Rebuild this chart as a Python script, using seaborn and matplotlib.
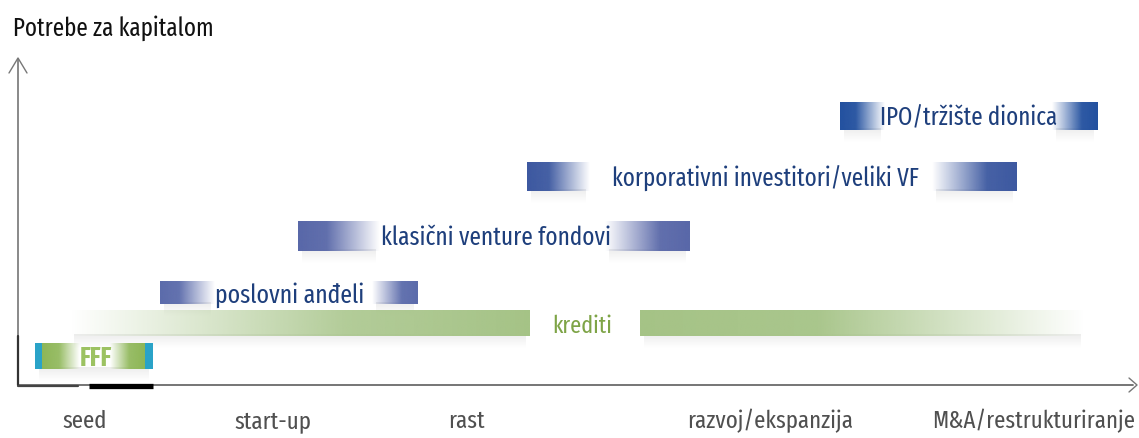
import numpy as np
import matplotlib
matplotlib.use("Agg")
import matplotlib.pyplot as plt
from matplotlib import font_manager
import seaborn as sns

# ---------------- data ----------------
stages = ["seed", "start-up", "rast", "razvoj/ekspanzija", "M&A/restrukturiranje"]
stage_pos = [85, 273, 466, 770, 1034]

sources = ["poslovni anđeli", "klasični venture fondovi",
           "korporativni investitori/veliki VF", "IPO/tržište dionica"]
src_level = [294, 237, 178, 117]
src_height = [23, 30, 29, 28]
src_left_start = [160, 298, 527, 840]
src_left_end = [215, 380, 590, 885]
src_text_span = [(215, 365), (381, 610), (612, 918), (880, 1057)]
src_right_start = [372, 605, 932, 1052]
src_right_end = [418, 690, 1017, 1098]
src_colors = ["#5b6bab", "#5867a8", "#3c58a0", "#22509f"]

fff_label = "FFF"
fff_span = [35, 153]
fff_level = 357

kred_label = "krediti"
kred_left = [70, 530]
kred_right = [640, 1085]
kred_level = 324

title = "Potrebe za kapitalom"

# ---------------- style ----------------
sns.set_theme(style="white")
avail = {f.name for f in font_manager.fontManager.ttflist}
main_font = "DejaVu Sans"
for cand in ["Fira Sans Extra Condensed", "PT Sans Narrow"]:
    if cand in avail:
        main_font = cand
        break
plt.rcParams["font.family"] = [main_font, "DejaVu Sans"]

W, H = 1139, 439
fig = plt.figure(figsize=(W / 100, H / 100), dpi=100)
ax = fig.add_axes([0, 0, 1, 1])
ax.set_xlim(0, W)
ax.set_ylim(H, 0)
ax.axis("off")
renderer = fig.canvas.get_renderer()


def fit_size(s, width, **kw):
    t = ax.text(0, 0, s, fontsize=20, **kw)
    w = t.get_window_extent(renderer).width
    t.remove()
    return 20 * width / w


def grad(x0, x1, yc, h, color, xs, alphas, n=256, z=3):
    rgb = np.array(matplotlib.colors.to_rgb(color))
    u = np.linspace(0, 1, n)
    img = np.zeros((1, n, 4))
    img[0, :, :3] = rgb
    img[0, :, 3] = np.clip(np.interp(u, xs, alphas), 0, 1)
    ax.imshow(img, extent=(x0, x1, yc + h / 2, yc - h / 2), aspect="auto",
              interpolation="bilinear", zorder=z)


def shadow(x0, x1, yc, h):
    n = 40
    img = np.zeros((n, 1, 4))
    img[:, 0, :3] = 0.55
    img[:, 0, 3] = np.linspace(0.16, 0.0, n)
    ax.imshow(img, extent=(x0 + 4, x1 - 4, yc + h / 2 + 12, yc + h / 2 - 2),
              aspect="auto", interpolation="bilinear", zorder=2)


# axes
ax.plot([18, 1133], [386, 386], color="#6a6a6a", lw=1.3, zorder=1)
ax.plot([18, 18], [386, 60], color="#6a6a6a", lw=1.1, zorder=1)
ax.plot([18, 18], [386, 337], color="#333333", lw=1.6, zorder=1)
ax.plot([18, 78], [387, 387], color="#444444", lw=1.6, zorder=1)
ax.plot([9, 18, 27], [74, 59, 74], color="#777777", lw=1.0, zorder=1)
ax.plot([1129, 1137, 1129], [379, 386, 393], color="#777777", lw=1.0, zorder=1)
ax.plot([89, 153], [387, 387], color="black", lw=3.8, zorder=2, solid_capstyle="butt")

# title
ax.text(13, 28, title, fontsize=fit_size(title, 200), color="#111111",
        va="center", ha="left")

# stage labels
fs_stage = fit_size(stages[-1], 203)
for s, x in zip(stages, stage_pos):
    ax.text(x, 421, s, fontsize=fs_stage, color="#505050", ha="center", va="center")

# krediti
green = "#a5c386"
shadow(kred_left[0], kred_left[1], kred_level, 26)
shadow(kred_right[0], kred_right[1], kred_level, 26)
grad(kred_left[0], kred_left[1], kred_level, 26, green, [0, 0.6, 1], [0.0, 0.85, 1.0])
grad(kred_right[0], kred_right[1], kred_level, 26, green, [0, 0.4, 1], [1.0, 0.95, 0.0])
ax.text(552, kred_level + 2, kred_label, fontsize=fit_size(kred_label, 60),
        color="#7ea447", ha="left", va="center", zorder=4)

# FFF
fg = "#8db656"
cy = "#2aa3c8"
x0, x1 = fff_span
shadow(x0, x1, fff_level, 26)
grad(x0, x0 + 7, fff_level, 26, cy, [0, 1], [1, 1])
grad(x0 + 7, x0 + 45, fff_level, 26, fg, [0, 0.45, 1], [1, 0.9, 0])
grad(x1 - 43, x1 - 8, fff_level, 26, fg, [0, 0.55, 1], [0, 0.9, 1])
grad(x1 - 8, x1, fff_level, 26, cy, [0, 1], [1, 1])
ax.text(80, fff_level + 1, fff_label,
        fontsize=fit_size(fff_label, 32, fontweight="bold"), color="#9cc262",
        ha="left", va="center", zorder=4, fontweight="bold")

# investor sources
for i, name in enumerate(sources):
    y = src_level[i]
    h = src_height[i]
    c = src_colors[i]
    shadow(src_left_start[i], src_left_end[i], y, h)
    shadow(src_right_start[i], src_right_end[i], y, h)
    grad(src_left_start[i], src_left_end[i], y, h, c, [0, 0.35, 1], [1, 0.95, 0])
    grad(src_right_start[i], src_right_end[i], y, h, c, [0, 0.65, 1], [0, 0.95, 1])
    tx0, tx1 = src_text_span[i]
    ax.text(tx0, y + 1, name, fontsize=fit_size(name, tx1 - tx0), color="#1e3f7c",
            ha="left", va="center", zorder=4)

fig.savefig("out.png", dpi=100)
